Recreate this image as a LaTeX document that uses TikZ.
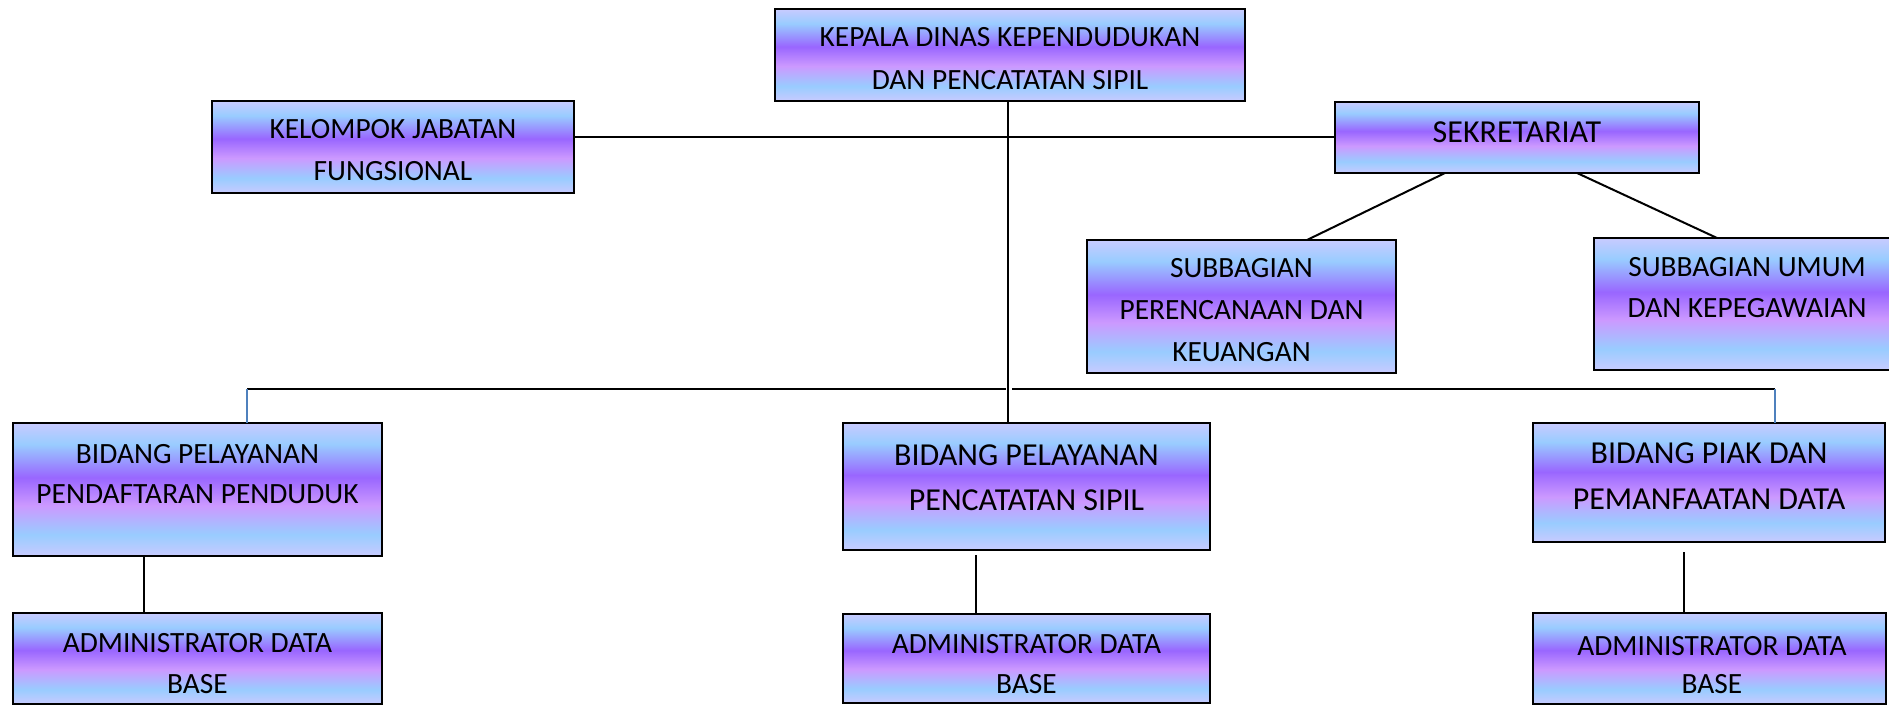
\documentclass[tikz,border=0pt]{standalone}
\usepackage{fontspec}
\setmainfont{Carlito}
\usetikzlibrary{calc}
\definecolor{lav}{HTML}{C8CBFF}
\definecolor{lblue}{HTML}{99CCFF}
\definecolor{purp}{HTML}{9966FF}
\definecolor{lpurp}{HTML}{CC99FF}
\definecolor{conblue}{HTML}{4F81BD}
\pgfdeclareverticalshading{wordgrad}{100bp}{color(0bp)=(lav); color(25bp)=(lav); color(33bp)=(lblue); color(44bp)=(lpurp); color(54.5bp)=(purp); color(67bp)=(lblue); color(75bp)=(lav); color(100bp)=(lav)}
\tikzset{
  orgbox/.style={draw=black, line width=1.4pt, shading=wordgrad, rectangle, inner sep=0pt, outer sep=0pt},
  txt/.style={align=center, anchor=base, inner sep=0pt, font=\fontsize{14.7}{21.5}\selectfont},
  bigtxt/.style={align=center, anchor=base, inner sep=0pt, font=\fontsize{16}{22.5}\selectfont},
  conn/.style={draw=black, line width=1pt},
  bconn/.style={draw=conblue, line width=0.7pt}
}
\begin{document}
\begin{tikzpicture}[x=0.5pt, y=-0.5pt]
\useasboundingbox (0,0) rectangle (1889,705);
% boxes
\node[orgbox, minimum width=235pt, minimum height=46pt] (kepala) at (1010,55) {};
\node[orgbox, minimum width=181pt, minimum height=46pt] (kel) at (393,147) {};
\node[orgbox, minimum width=182pt, minimum height=35.5pt] (sek) at (1517,137.5) {};
\node[orgbox, minimum width=154.5pt, minimum height=66.5pt] (subper) at (1241.5,306.5) {};
\node[orgbox, minimum width=153pt, minimum height=66pt] (subumum) at (1747,304) {};
\node[orgbox, minimum width=184.5pt, minimum height=66.5pt] (ppp) at (197.5,489.5) {};
\node[orgbox, minimum width=184.5pt, minimum height=45.5pt] (adb1) at (197.5,658.5) {};
\node[orgbox, minimum width=183.5pt, minimum height=63.5pt] (pcs) at (1026.5,486.5) {};
\node[orgbox, minimum width=183.5pt, minimum height=44.5pt] (adb2) at (1026.5,658.5) {};
\node[orgbox, minimum width=176pt, minimum height=59.5pt] (piak) at (1709,482.5) {};
\node[orgbox, minimum width=176.5pt, minimum height=45.5pt] (adb3) at (1709.5,658.5) {};
% texts (anchor = baseline of last line)
\node[txt] (tkepala) at (1010,90) {KEPALA DINAS KEPENDUDUKAN\\DAN PENCATATAN SIPIL};
\node[txt, font=\fontsize{14.7}{21}\selectfont] (tkel) at (393,181) {KELOMPOK JABATAN\\FUNGSIONAL};
\node[bigtxt] (tsek) at (1517,143) {SEKRETARIAT};
\node[txt, font=\fontsize{14.7}{21}\selectfont] (tsubper) at (1241.5,362) {SUBBAGIAN\\PERENCANAAN DAN\\KEUANGAN};
\node[txt, font=\fontsize{14.7}{20.5}\selectfont] (tsubumum) at (1747,318) {SUBBAGIAN UMUM\\DAN KEPEGAWAIAN};
\node[txt, font=\fontsize{14.7}{20}\selectfont] (tppp) at (197.5,503) {BIDANG PELAYANAN\\PENDAFTARAN PENDUDUK};
\node[txt, font=\fontsize{14.7}{20.5}\selectfont] (tadb1) at (197.5,693) {ADMINISTRATOR DATA\\BASE};
\node[bigtxt] (tpcs) at (1026.5,510) {BIDANG PELAYANAN\\PENCATATAN SIPIL};
\node[txt, font=\fontsize{14.7}{20}\selectfont] (tadb2) at (1026.5,693) {ADMINISTRATOR DATA\\BASE};
\node[bigtxt, font=\fontsize{16}{23}\selectfont] (tpiak) at (1709,509) {BIDANG PIAK DAN\\PEMANFAATAN DATA};
\node[txt, font=\fontsize{14.7}{19}\selectfont] (tadb3) at (1712,693) {ADMINISTRATOR DATA\\BASE};
% connectors
\coordinate (busL) at (247,389);
\coordinate (busR) at (1775,389);
\coordinate (busM1) at (1006,389);
\coordinate (busM2) at (1012,389);
\draw[conn] ($(kepala.south)+(-2,0)$) -- ($(kepala.south |- pcs.north)+(-2,0)$);
\draw[conn] (kel.east |- sek.west) -- (sek.west);
\draw[conn] ($(sek.south west)+(110,0)$) -- ($(subper.north west)+(220,0)$);
\draw[conn] ($(sek.south west)+(242,0)$) -- ($(subumum.north west)+(123,0)$);
\draw[conn] (busL) -- (busM1);
\draw[conn] (busM2) -- (busR);
\draw[bconn] (busL) -- (busL |- ppp.north);
\draw[bconn] (busR) -- (busR |- piak.north);
\draw[conn] ($(ppp.south west)+(131,0)$) -- ($(adb1.north west)+(131,0)$);
\draw[conn] ($(pcs.south west)+(133,5)$) -- ($(adb2.north west)+(133,0)$);
\draw[conn] ($(piak.south west)+(151,10)$) -- ($(adb3.north west)+(151,0)$);
\end{tikzpicture}
\end{document}
